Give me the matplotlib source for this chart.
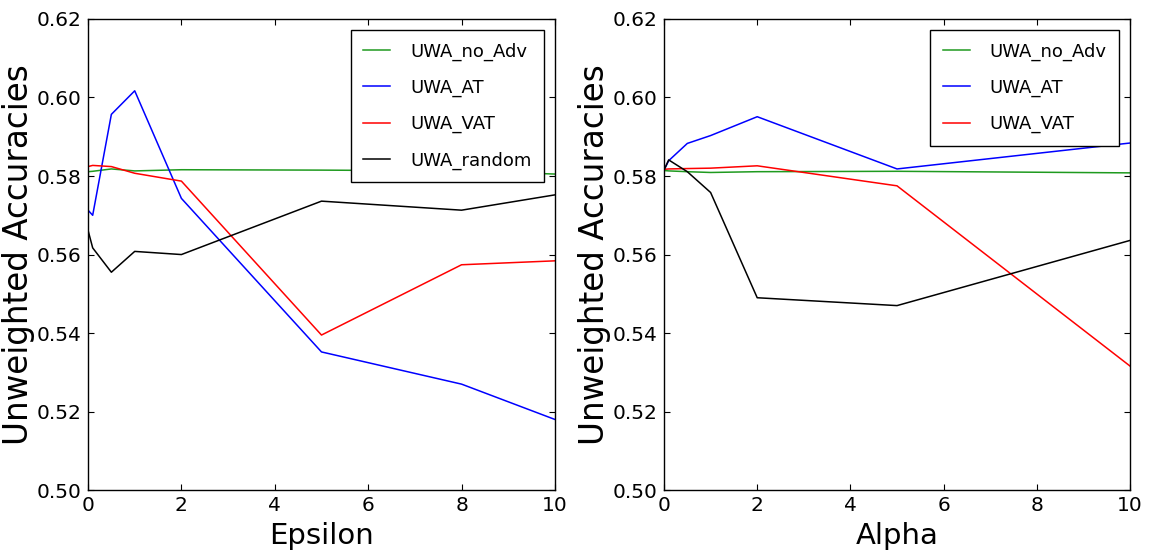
import matplotlib
matplotlib.use('Agg')
import matplotlib.pyplot as plt

# left panel: epsilon sweep
eps = [0, 0.1, 0.5, 1, 2, 5, 8, 10]
eps_no_adv = [0.5811, 0.5812, 0.5818, 0.5813, 0.5816, 0.5815, 0.5813, 0.5805]
eps_at = [0.5713, 0.5700, 0.5957, 0.6017, 0.5743, 0.5352, 0.5270, 0.5180]
eps_vat = [0.5824, 0.5827, 0.5824, 0.5807, 0.5787, 0.5395, 0.5574, 0.5584]
eps_random = [0.5662, 0.5617, 0.5555, 0.5608, 0.5600, 0.5736, 0.5713, 0.5752]

# right panel: alpha sweep
alpha = [0, 0.1, 0.5, 1, 2, 5, 10]
alpha_no_adv = [0.5814, 0.5813, 0.5811, 0.5809, 0.5811, 0.5812, 0.5808]
alpha_at = [0.5815, 0.5839, 0.5883, 0.5903, 0.5951, 0.5818, 0.5884]
alpha_vat = [0.5817, 0.5818, 0.5819, 0.5820, 0.5826, 0.5775, 0.5316]
alpha_random = [0.5815, 0.5841, 0.5811, 0.5758, 0.5490, 0.5470, 0.5636]

GREEN = '#1f9a1f'
LW = 1.1

fig = plt.figure(figsize=(11.49, 5.57), dpi=100, facecolor='white')
ax1 = fig.add_axes([0.0766, 0.120, 0.4064, 0.846])
ax2 = fig.add_axes([0.5779, 0.120, 0.4056, 0.846])


def style_axis(ax, xlabel):
    ax.set_xlim(0, 10)
    ax.set_ylim(0.50, 0.62)
    ax.set_yticks([0.50, 0.52, 0.54, 0.56, 0.58, 0.60, 0.62])
    ax.set_xticks([0, 2, 4, 6, 8, 10])
    ax.tick_params(direction='in', top=True, right=True, length=4.5, width=0.8,
                   pad=4.5, labelsize=14.5)
    ax.set_xlabel(xlabel, fontsize=21, labelpad=5)
    ax.set_ylabel('Unweighted Accuracies', fontsize=23.5, labelpad=1)
    for sp in ax.spines.values():
        sp.set_linewidth(1.0)


def add_legend(ax):
    ax.legend(loc='upper right', fontsize=13, fancybox=False, edgecolor='black',
              framealpha=1, handlelength=1.5, handletextpad=1.1, borderpad=0.7,
              labelspacing=1.0, borderaxespad=0.6)


ax1.plot(eps, eps_no_adv, color=GREEN, lw=LW, label='UWA_no_Adv')
ax1.plot(eps, eps_at, color='b', lw=LW, label='UWA_AT')
ax1.plot(eps, eps_vat, color='r', lw=LW, label='UWA_VAT')
ax1.plot(eps, eps_random, color='k', lw=LW, label='UWA_random')
style_axis(ax1, 'Epsilon')
add_legend(ax1)

ax2.plot(alpha, alpha_no_adv, color=GREEN, lw=LW, label='UWA_no_Adv')
ax2.plot(alpha, alpha_at, color='b', lw=LW, label='UWA_AT')
ax2.plot(alpha, alpha_vat, color='r', lw=LW, label='UWA_VAT')
ax2.plot(alpha, alpha_random, color='k', lw=LW)
style_axis(ax2, 'Alpha')
add_legend(ax2)

plt.savefig('out.png', dpi=100, facecolor='white')
